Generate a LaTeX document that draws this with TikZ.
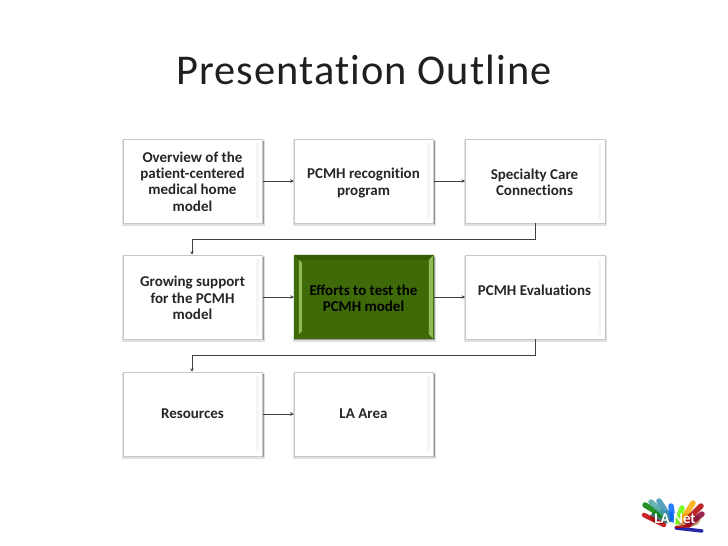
\documentclass[tikz,border=0pt]{standalone}
\usepackage{fontspec}
\setmainfont{Carlito}
\newfontfamily\titlefont[LetterSpace=2.5,RawFeature=-liga]{Carlito}
\usetikzlibrary{arrows.meta,calc}
\definecolor{edge}{HTML}{C8C8C8}
\definecolor{lnk}{HTML}{404040}
\definecolor{grn}{HTML}{3E6A08}
\definecolor{grnlt}{HTML}{8DBB55}
\definecolor{grndk}{HTML}{355C05}
\tikzset{
  x=1pt,y=-1pt,
  boxbase/.style={minimum width=139.5pt,minimum height=84pt,inner sep=2pt,align=flush center,text width=125pt,
    font=\fontsize{15}{16.3}\selectfont\bfseries,text=black!85},
  card/.style={boxbase,draw=edge,line width=0.6pt,fill=white},
  greencard/.style={boxbase,fill=grn,text=black},
  flow/.style={draw=lnk,line width=0.7pt,-{Stealth[length=3.5pt,width=3.5pt]}},
  finger/.style={line width=5.5pt,line cap=round,opacity=0.85},
  soft/.style={black!12},
  hard/.style={black!40},
}
\newcommand{\softshadow}[2]{%
  \fill[soft] (#1-1,#2-41) rectangle (#1+141.5,#2+44.5);
  \fill[hard] (#1,#2-40) rectangle (#1+140.5,#2+43.3);
}
\newcommand{\cardstrip}[1]{%
  \fill[black!4] ($(#1.north east)+(-7,4)$) rectangle ($(#1.south east)+(-4,-4)$);
}
\begin{document}
\begin{tikzpicture}
\useasboundingbox (0,0) rectangle (728,546);
\fill[white] (0,0) rectangle (728,546);
\node[font=\titlefont\fontsize{42.4}{46}\selectfont,text=black!88] (title) at (364,70) {Presentation Outline};

\softshadow{123}{181}
\softshadow{294}{181}
\softshadow{465}{181}
\softshadow{123}{297}
\softshadow{294}{297}
\softshadow{465}{297}
\softshadow{123}{414}
\softshadow{294}{414}

\node[card] (a) at (192.8,181) {};
\node[card] (b) at (363.8,181) {};
\node[card] (c) at (535.2,181) {};
\node[card] (d) at (192.8,297) {};
\node[greencard] (e) at (363.8,297) {};
\node[card] (f) at (535.2,297) {};
\node[card] (g) at (192.8,414) {};
\node[card] (h) at (363.8,414) {};

\foreach \n in {a,b,c,d,f,g,h}{\cardstrip{\n}}

% bevel of the green box
\fill[grndk] (e.north west) -- (e.north east) -- ++(-5,5) -- ($(e.north west)+(5,5)$) -- cycle;
\fill[grnlt] (e.north west) ++(5,5) -- ++(3,3) -- ($(e.south west)+(8,-8)$) -- ($(e.south west)+(5,-5)$) -- cycle;
\fill[grnlt] (e.north east) ++(-1,1) -- ++(-4,4) -- ($(e.south east)+(-5,-5)$) -- ($(e.south east)+(-1,-1)$) -- cycle;

\node[boxbase,anchor=center] (ta) at (192.5,181.5) {Overview of the\\pat\kern0pt ient-centered\\medical home\\model};
\node[boxbase] (tb) at (363.5,183) {PCMH recognit\kern0pt ion\\program};
\node[boxbase] (tc) at (534.5,182.5) {Specialty Care\\Connect\kern0pt ions};
\node[boxbase] (td) at (192.5,298) {Growing support\\for the PCMH\\model};
\node[boxbase,text=black] (te) at (363.5,298) {Efforts to test the\\PCMH model};
\node[boxbase] (tf) at (534.5,290) {PCMH Evaluat\kern0pt ions};
\node[boxbase] (tg) at (192.5,413.5) {Resources};
\node[boxbase] (th) at (363.5,413.5) {LA Area};

\coordinate (j1) at (535.2,239);
\coordinate (j1b) at (192,239);
\coordinate (j2) at (535.2,355);
\coordinate (j2b) at (192,355);

\draw[flow] (a.east) -- (b.west);
\draw[flow] (b.east) -- (c.west);
\draw[flow] (d.east) -- (e.west);
\draw[flow] (e.east) -- (f.west);
\draw[flow] (g.east) -- (h.west);
\draw[flow] (c.south) -- (j1) -- (j1b) -- (d.north -| j1b);
\draw[flow] (f.south) -- (j2) -- (j2b) -- (g.north -| j2b);

% logo
\fill[teal!60!black,opacity=0.75] (662,517) ellipse (12 and 7);
\fill[orange!60!black,opacity=0.6] (688,520) ellipse (12 and 7);
\draw[finger,red!75!black,line width=4.5pt] (644,515) -- (664,525);
\draw[finger,green!50!black] (645,505) -- (663,516);
\draw[finger,teal!70] (651,502) -- (665,515);
\draw[finger,cyan!40!teal] (659,501) -- (669,516);
\draw[finger,blue!60!cyan] (671,506) -- (673,520);
\draw[finger,green!60!yellow] (682,508) -- (677,522);
\draw[finger,orange!70!yellow] (693,503) -- (682,520);
\draw[finger,red!70!black] (701,506) -- (686,521);
\draw[finger,purple!70!black] (702,514) -- (688,525);
\draw[finger,blue!60!black,line width=3.5pt] (702,531) -- (676,528);
\draw[finger,red!70!black,line width=2.5pt] (676,527) -- (690,526);
\node[font=\fontsize{15}{15}\selectfont\bfseries,text=white,inner sep=0pt] (logo) at (675,519) {LA Net};
\end{tikzpicture}
\end{document}
